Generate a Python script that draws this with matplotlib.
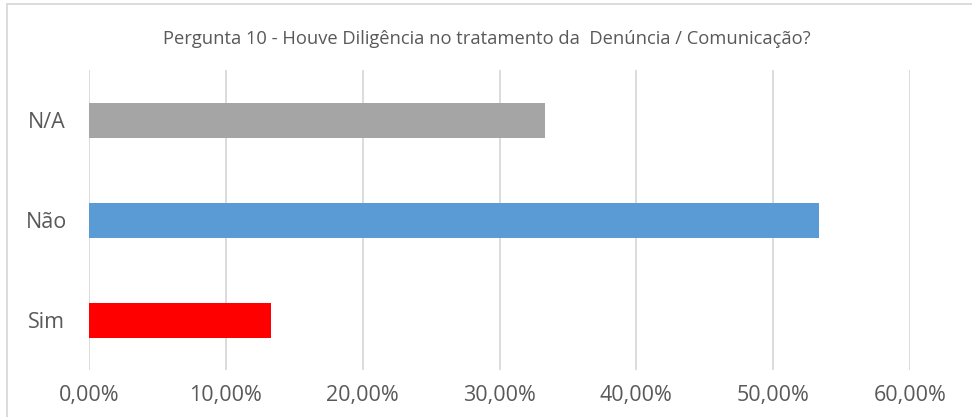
import matplotlib
matplotlib.use("Agg")
import matplotlib.pyplot as plt
from matplotlib.ticker import FuncFormatter
from matplotlib.lines import Line2D

categories = ["Sim", "Não", "N/A"]
values = [13.33, 53.33, 33.33]
colors = ["#FF0000", "#5B9BD5", "#A5A5A5"]
xticks = [0, 10, 20, 30, 40, 50, 60]
title = "Pergunta 10 - Houve Diligência no tratamento da  Denúncia / Comunicação?"

plt.rcParams['font.family'] = ['Open Sans', 'DejaVu Sans']
W, H = 972, 417
fig = plt.figure(figsize=(W / 100, H / 100), dpi=100)
fig.patch.set_facecolor("white")

# chart frame
fig.add_artist(Line2D([7 / W, 7 / W], [0, 1 - 4 / H], transform=fig.transFigure, color="#D9D9D9", lw=1.3))
fig.add_artist(Line2D([7 / W, 1], [1 - 4 / H, 1 - 4 / H], transform=fig.transFigure, color="#D9D9D9", lw=1.3))

ax = fig.add_axes([89 / W, (H - 370) / H, (910 - 89) / W, (370 - 70) / H])
ax.barh(range(len(categories)), values, height=0.35, color=colors, zorder=3)
ax.set_xlim(0, 60)
ax.set_ylim(-0.5, 2.5)
ax.set_xticks(xticks)
ax.xaxis.set_major_formatter(FuncFormatter(lambda v, p: f"{v:.2f}%".replace(".", ",")))
ax.set_yticks(range(len(categories)))
ax.set_yticklabels(categories)
ax.grid(axis="x", color="#D9D9D9", lw=1.3, zorder=0)
for s in ax.spines.values():
    s.set_visible(False)
ax.tick_params(axis="both", length=0, colors="#595959", labelsize=15.5)
ax.tick_params(axis="x", pad=11)
ax.tick_params(axis="y", pad=30.6)
for lbl in ax.get_yticklabels():
    lbl.set_horizontalalignment("center")

fig.text(486.5 / W, 1 - 39 / H, title, ha="center", va="center", fontsize=13.2, color="#595959")

fig.savefig("out.png", dpi=100, facecolor="white")
